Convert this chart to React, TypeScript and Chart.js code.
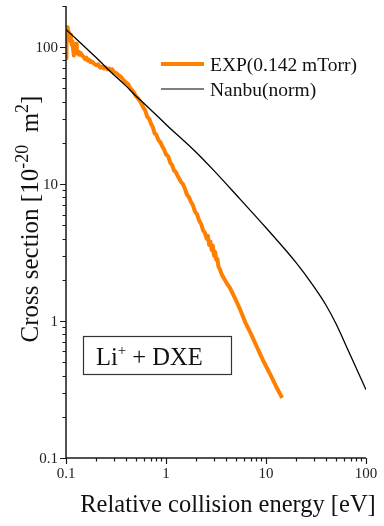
import React, { useEffect, useRef } from 'react';
import { Chart, registerables } from 'chart.js';

Chart.register(...registerables);

const FONT = '"Liberation Serif", "Times New Roman", serif';

// EXP(0.142 mTorr) measured cross section (energy in eV, cross section in 1e-20 m^2)
const expEnergy = [
  0.1, 0.1008, 0.1016, 0.1025, 0.104, 0.106, 0.108, 0.11, 0.112, 0.114, 0.116, 0.118, 0.12, 0.122,
  0.124, 0.126, 0.128, 0.13, 0.133, 0.136, 0.14, 0.145, 0.15, 0.155, 0.16, 0.165, 0.17, 0.175, 0.18,
  0.19, 0.2, 0.21, 0.22, 0.23, 0.24, 0.25, 0.26, 0.27, 0.28, 0.29, 0.3, 0.32, 0.34, 0.36, 0.38, 0.4,
  0.42, 0.44, 0.47, 0.5, 0.53, 0.56, 0.59, 0.62, 0.65, 0.68, 0.71, 0.74, 0.77, 0.8, 0.84, 0.88, 0.92,
  0.96, 1.0, 1.05, 1.1, 1.15, 1.2, 1.25, 1.3, 1.36, 1.42, 1.48, 1.55, 1.62, 1.7, 1.78, 1.86, 1.95,
  2.05, 2.15, 2.25, 2.35, 2.45, 2.55, 2.62, 2.7, 2.78, 2.86, 2.94, 3.02, 3.1, 3.18, 3.26, 3.35, 3.45,
  3.6, 3.8, 4.0, 4.37, 5.0, 5.5, 6.2, 7.0, 8.0, 9.3, 11, 12.7, 14.5,
];
const expCross = [
  83, 138, 126, 140, 122, 131, 112, 124, 116, 104, 110, 96, 87, 93,
  101, 106, 98, 90, 93, 88, 91, 87, 85, 82, 84, 80, 81, 78, 79,
  76, 74, 75, 71, 72, 70, 71, 69, 70, 68, 69, 66, 64.5, 62, 60, 57, 55,
  53.5, 50, 47.5, 44, 42, 39.5, 36.5, 34.5, 31, 30, 27.5, 26, 23.5, 23, 21, 20.2, 18.8,
  17.8, 16.5, 16, 14.4, 13.8, 12.6, 12.3, 11.6, 10.9, 10.3, 10, 9.2, 8.4, 8.0, 7.4, 7.0, 6.3,
  6.0, 5.4, 5.1, 4.6, 4.4, 4.0, 4.2, 3.6, 3.8, 3.3, 3.55, 3.0, 3.2, 2.8, 2.85, 2.5, 2.4,
  2.2, 2.05, 1.92, 1.74, 1.42, 1.22, 0.98, 0.82, 0.66, 0.52, 0.41, 0.33, 0.275,
];

// Nanbu(norm) curve
const nanbuEnergy = [0.1, 0.2, 0.3, 0.4, 0.5, 0.6, 1, 2, 3, 5, 10, 20, 30, 40, 50, 70, 100];
const nanbuCross = [135, 84, 63, 52, 44, 39, 27.3, 17.1, 12.6, 8.4, 4.8, 2.67, 1.79, 1.3, 0.96, 0.56, 0.315];

const xMajorTicks = [0.1, 1, 10, 100];
const xTickLabels = ['0.1', '1', '10', '100'];
const yMajorTicks = [0.1, 1, 10, 100];
const yTickLabels = ['0.1', '1', '10', '100'];
const xMin = 0.1;
const xMax = 100;
const yMin = 0.1;
const yMax = 200;

const seriesNames = ['EXP(0.142 mTorr)', 'Nanbu(norm)'];
const seriesColors = ['#FF8000', '#000000'];
const xTitle = 'Relative collision energy [eV]';

type Part = { t: string; sup?: boolean };
const yTitleParts: Part[] = [
  { t: 'Cross section [10' },
  { t: '-20', sup: true },
  { t: '  m' },
  { t: '2', sup: true },
  { t: ']' },
];
const boxParts: Part[] = [{ t: 'Li' }, { t: '+', sup: true }, { t: ' + DXE' }];

function partsWidth(ctx: CanvasRenderingContext2D, parts: Part[], size: number, supScale: number) {
  let w = 0;
  for (const p of parts) {
    ctx.font = `${p.sup ? Math.round(size * supScale) : size}px ${FONT}`;
    w += ctx.measureText(p.t).width;
  }
  return w;
}

function drawParts(
  ctx: CanvasRenderingContext2D,
  parts: Part[],
  x: number,
  y: number,
  size: number,
  supScale: number,
) {
  let cx = x;
  ctx.textAlign = 'left';
  ctx.textBaseline = 'alphabetic';
  for (const p of parts) {
    ctx.font = `${p.sup ? Math.round(size * supScale) : size}px ${FONT}`;
    ctx.fillText(p.t, cx, p.sup ? y - size * 0.42 : y);
    cx += ctx.measureText(p.t).width;
  }
}

const decorPlugin = {
  id: 'decor',
  afterDraw(chart: any) {
    const ctx: CanvasRenderingContext2D = chart.ctx;
    const xs = chart.scales.x;
    const ys = chart.scales.y;
    const left = xs.left;
    const right = xs.right;
    const top = ys.top;
    const bottom = ys.bottom;
    ctx.save();
    ctx.strokeStyle = '#1a1a1a';
    ctx.fillStyle = '#1a1a1a';
    ctx.lineWidth = 1.5;
    ctx.beginPath();
    ctx.moveTo(left, top);
    ctx.lineTo(left, bottom);
    ctx.lineTo(right, bottom);
    ctx.stroke();

    ctx.lineWidth = 1.2;
    ctx.beginPath();
    for (const d of yMajorTicks) {
      for (let k = 1; k <= 9; k++) {
        const v = d * k;
        if (v > yMax * 1.0001) break;
        const py = Math.round(ys.getPixelForValue(v)) + 0.5;
        const len = k === 1 ? 6 : 3.5;
        ctx.moveTo(left - len, py);
        ctx.lineTo(left, py);
      }
    }
    for (const d of xMajorTicks) {
      for (let k = 1; k <= 9; k++) {
        const v = d * k;
        if (v > xMax * 1.0001) break;
        const px = Math.round(xs.getPixelForValue(v)) + 0.5;
        const len = k === 1 ? 6 : 3.5;
        ctx.moveTo(px, bottom);
        ctx.lineTo(px, bottom + len);
      }
    }
    ctx.stroke();

    // tick labels
    ctx.fillStyle = '#222';
    ctx.font = `15px ${FONT}`;
    ctx.textAlign = 'right';
    ctx.textBaseline = 'middle';
    yMajorTicks.forEach((v, i) => {
      ctx.fillText(yTickLabels[i], left - 8, ys.getPixelForValue(v) + 1);
    });
    ctx.textAlign = 'center';
    ctx.textBaseline = 'top';
    xMajorTicks.forEach((v, i) => {
      ctx.fillText(xTickLabels[i], xs.getPixelForValue(v), bottom + 9);
    });

    // axis titles
    ctx.fillStyle = '#111';
    ctx.font = `24.5px ${FONT}`;
    ctx.textAlign = 'center';
    ctx.textBaseline = 'alphabetic';
    ctx.fillText(xTitle, 228, 512);

    ctx.save();
    ctx.translate(38, 219);
    ctx.rotate(-Math.PI / 2);
    const tw = partsWidth(ctx, yTitleParts, 25, 0.7);
    drawParts(ctx, yTitleParts, -tw / 2, 0, 25, 0.7);
    ctx.restore();

    // legend
    const legendX0 = 161;
    const legendX1 = 204;
    const legendY = [64, 89];
    const legendW = [4, 1.2];
    ctx.font = `19.5px ${FONT}`;
    ctx.textAlign = 'left';
    ctx.textBaseline = 'alphabetic';
    seriesNames.forEach((name, i) => {
      ctx.strokeStyle = seriesColors[i];
      ctx.lineWidth = legendW[i];
      ctx.beginPath();
      ctx.moveTo(legendX0, legendY[i]);
      ctx.lineTo(legendX1, legendY[i]);
      ctx.stroke();
      ctx.fillStyle = '#111';
      ctx.fillText(name, 210, legendY[i] + 7);
    });

    // label box
    ctx.strokeStyle = '#333';
    ctx.lineWidth = 1.2;
    ctx.strokeRect(83.5, 336.5, 148, 38);
    ctx.fillStyle = '#111';
    drawParts(ctx, boxParts, 96, 365, 24.5, 0.6);

    ctx.restore();
  },
};

export default function App() {
  const canvasRef = useRef<HTMLCanvasElement | null>(null);

  useEffect(() => {
    document.body.style.margin = '0';
    const canvas = canvasRef.current;
    if (!canvas) return;
    const chart = new Chart(canvas, {
      type: 'line',
      data: {
        datasets: [
          {
            label: seriesNames[1],
            data: nanbuEnergy.map((x, i) => ({ x, y: nanbuCross[i] })),
            borderColor: seriesColors[1],
            borderWidth: 1.3,
            pointRadius: 0,
            cubicInterpolationMode: 'monotone',
            fill: false,
            order: 0,
          },
          {
            label: seriesNames[0],
            data: expEnergy.map((x, i) => ({ x, y: expCross[i] })),
            borderColor: seriesColors[0],
            borderWidth: 4,
            pointRadius: 0,
            tension: 0,
            fill: false,
            borderJoinStyle: 'round',
            borderCapStyle: 'butt',
            order: 1,
          },
        ],
      },
      options: {
        animation: false,
        responsive: false,
        devicePixelRatio: 1,
        layout: { padding: { left: 66, right: 18, top: 6, bottom: 68 } },
        plugins: { legend: { display: false }, tooltip: { enabled: false }, title: { display: false } },
        events: [],
        scales: {
          x: { type: 'logarithmic', min: xMin, max: xMax, display: false },
          y: { type: 'logarithmic', min: yMin, max: yMax, display: false },
        },
      },
      plugins: [decorPlugin],
    } as any);
    return () => chart.destroy();
  }, []);

  return (
    <div style={{ width: 384, height: 526, background: '#fff' }}>
      <canvas ref={canvasRef} width={384} height={526} style={{ display: 'block' }} />
    </div>
  );
}
